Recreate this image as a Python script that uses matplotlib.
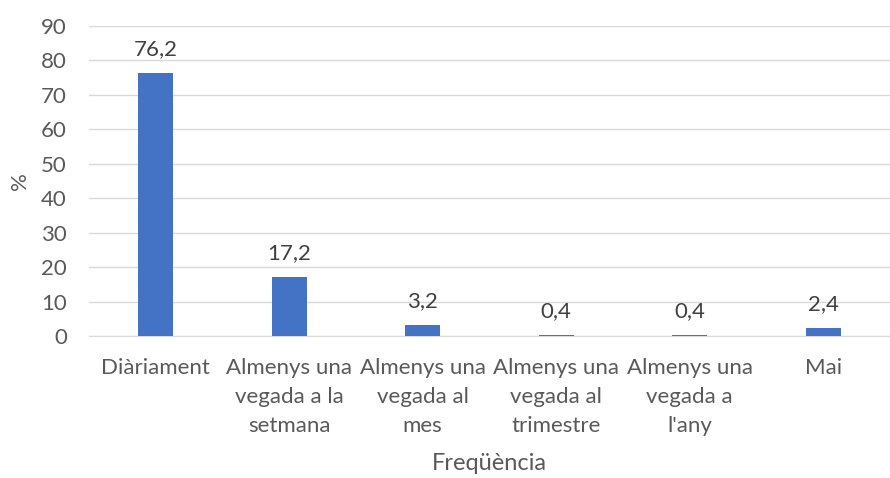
import matplotlib.pyplot as plt

categories = [
    "Diàriament",
    "Almenys una\nvegada a la\nsetmana",
    "Almenys una\nvegada al\nmes",
    "Almenys una\nvegada al\ntrimestre",
    "Almenys una\nvegada a\nl'any",
    "Mai",
]
values = [76.2, 17.2, 3.2, 0.4, 0.4, 2.4]
yticks = [0, 10, 20, 30, 40, 50, 60, 70, 80, 90]

plt.rcParams["font.family"] = ["Lato", "DejaVu Sans"]

fig = plt.figure(figsize=(8.9, 4.78), dpi=100)
ax = fig.add_axes([0.1, 0.297, 0.9, 0.649])

x = range(len(categories))
ax.bar(x, values, width=0.26, color="#4472C4", zorder=3)

for xi, v in zip(x, values):
    ax.annotate(f"{v:.1f}".replace(".", ","), (xi, v), xytext=(0, 10),
                textcoords="offset points", ha="center", va="bottom",
                fontsize=16, color="#404040")

ax.set_xlim(-0.5, len(categories) - 0.5)
ax.set_ylim(0, 90)
ax.set_yticks(yticks)
ax.yaxis.grid(True, color="#D9D9D9", linewidth=1, zorder=0)
ax.set_xticks(list(x))
ax.set_xticklabels(categories, fontsize=16, color="#595959", linespacing=1.55)
ax.tick_params(axis="y", labelsize=16, labelcolor="#595959", length=0, pad=16)
ax.tick_params(axis="x", length=0, pad=16)
for side in ["top", "right", "left"]:
    ax.spines[side].set_visible(False)
ax.spines["bottom"].set_color("#D9D9D9")

ax.set_ylabel("%", fontsize=16, color="#595959", labelpad=8)
ax.set_xlabel("Freqüència", fontsize=17, color="#595959", labelpad=12)

plt.savefig("out.png", dpi=100)
plt.close()
